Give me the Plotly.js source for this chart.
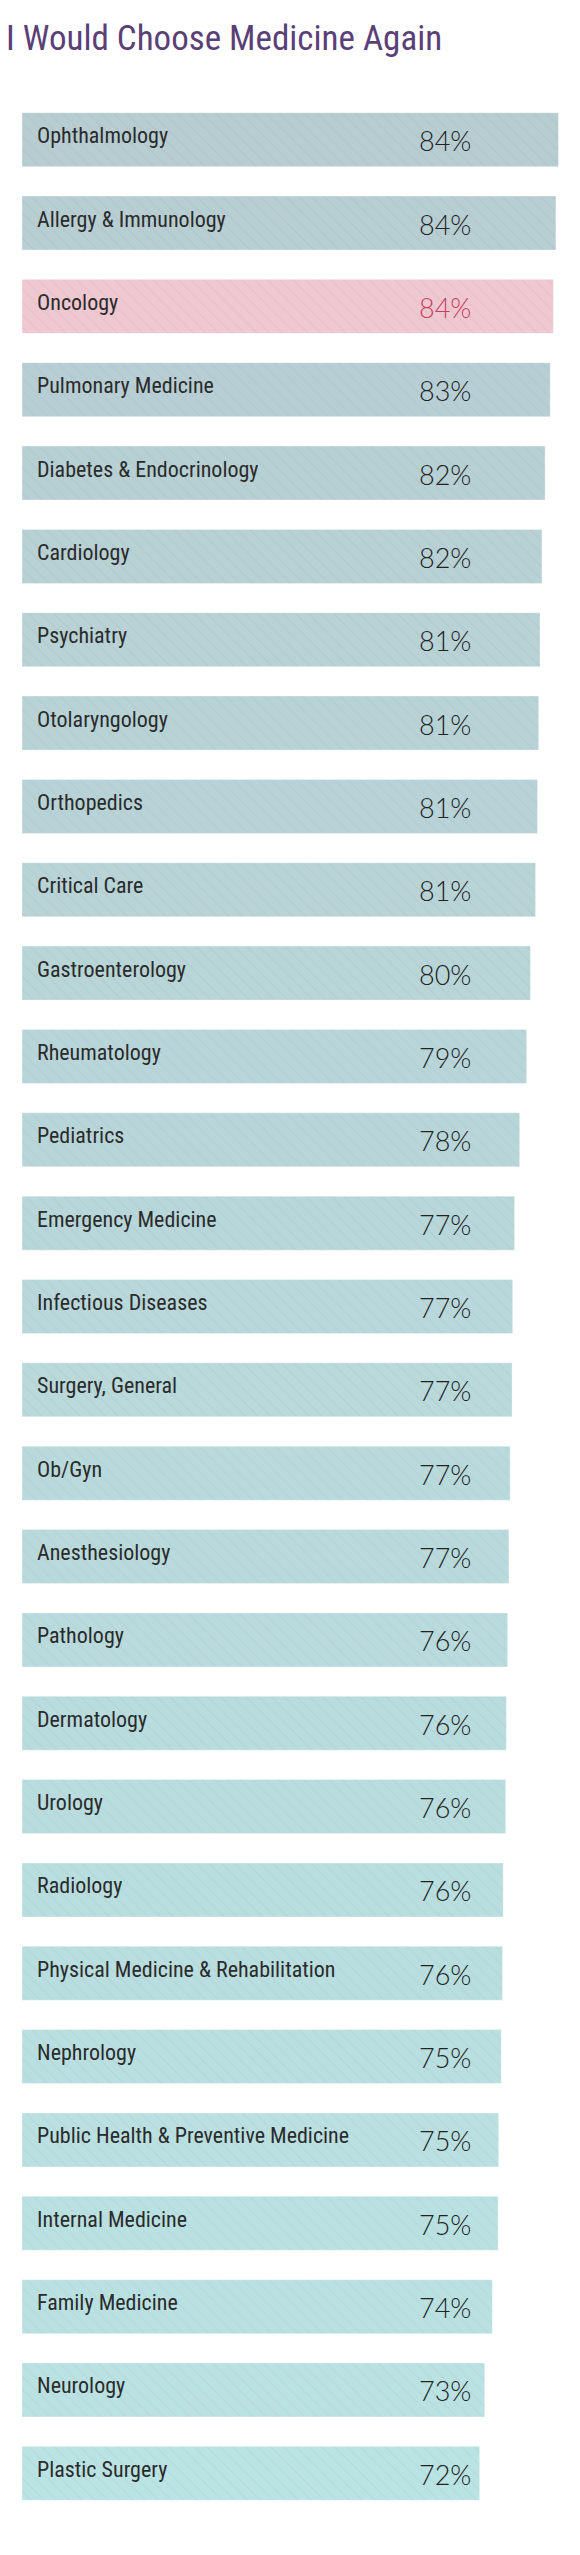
<!DOCTYPE html>
<html>
<head>
<meta charset="utf-8">
<script src="https://cdn.plot.ly/plotly-3.0.1.min.js"></script>
<style>
  html, body { margin: 0; padding: 0; background: #fff; }
  #chart { width: 580px; height: 2555px; }
</style>
</head>
<body>
<div id="chart"></div>
<script>
// specialties, top to bottom
const SPECIALTIES = [
  'Ophthalmology',
  'Allergy & Immunology',
  'Oncology',
  'Pulmonary Medicine',
  'Diabetes & Endocrinology',
  'Cardiology',
  'Psychiatry',
  'Otolaryngology',
  'Orthopedics',
  'Critical Care',
  'Gastroenterology',
  'Rheumatology',
  'Pediatrics',
  'Emergency Medicine',
  'Infectious Diseases',
  'Surgery, General',
  'Ob/Gyn',
  'Anesthesiology',
  'Pathology',
  'Dermatology',
  'Urology',
  'Radiology',
  'Physical Medicine & Rehabilitation',
  'Nephrology',
  'Public Health & Preventive Medicine',
  'Internal Medicine',
  'Family Medicine',
  'Neurology',
  'Plastic Surgery',
];

// bar lengths
const BAR_VALUES = [
  84.4, 84.0, 83.6, 83.1, 82.3, 81.8, 81.5, 81.3, 81.1, 80.8,
  80.0, 79.4, 78.3, 77.5, 77.2, 77.1, 76.8, 76.6, 76.4, 76.2,
  76.1, 75.7, 75.6, 75.4, 75.0, 74.9, 74.0, 72.8, 72.0,
];

// printed percentages
const SHOWN_PCT = [
  84, 84, 84, 83, 82, 82, 81, 81, 81, 81,
  80, 79, 78, 77, 77, 77, 77, 77, 76, 76,
  76, 76, 76, 75, 75, 75, 74, 73, 72,
];

const HIGHLIGHT = 'Oncology';

const TOP_COLOR = [183, 205, 210];
const BOTTOM_COLOR = [186, 227, 227];

function mixColor(t) {
  const c = TOP_COLOR.map((v, i) => Math.round(v + (BOTTOM_COLOR[i] - v) * t));
  return `rgb(${c[0]},${c[1]},${c[2]})`;
}

const barColors = SPECIALTIES.map((name, i) =>
  name === HIGHLIGHT ? 'rgb(239,200,209)' : mixColor(i / (SPECIALTIES.length - 1))
);

const trace = {
  type: 'bar',
  orientation: 'h',
  x: BAR_VALUES,
  y: SPECIALTIES,
  marker: {
    color: barColors,
    line: { color: 'rgba(255,255,255,0.35)', width: 1 },
    pattern: {
      shape: '\\',
      fillmode: 'overlay',
      fgcolor: '#ffffff',
      fgopacity: 0.05,
      size: 9,
      solidity: 0.15,
    },
  },
  hoverinfo: 'none',
};

const annotations = [];
SPECIALTIES.forEach((name, i) => {
  annotations.push({
    x: 2.05,
    y: name,
    xref: 'x',
    yref: 'y',
    text: name,
    showarrow: false,
    xanchor: 'left',
    yanchor: 'middle',
    yshift: 4,
    font: {
      family: '"Roboto Condensed", "Liberation Sans Narrow", "DejaVu Sans Condensed", sans-serif',
      size: 22,
      color: '#2b2b2b',
    },
  });
  annotations.push({
    x: 62.1,
    y: name,
    xref: 'x',
    yref: 'y',
    text: SHOWN_PCT[i] + '%',
    showarrow: false,
    xanchor: 'left',
    yanchor: 'middle',
    yshift: -1,
    font: {
      family: 'Lato, "Open Sans", sans-serif',
      weight: 300,
      size: 27,
      color: name === HIGHLIGHT ? '#c8405f' : '#222222',
    },
  });
});

const layout = {
  width: 580,
  height: 2555,
  margin: { l: 22, r: 5, t: 98, b: 40 },
  paper_bgcolor: '#ffffff',
  plot_bgcolor: '#ffffff',
  showlegend: false,
  bargap: 0.352,
  title: {
    text: 'I Would Choose Medicine Again',
    x: 6 / 580,
    xanchor: 'left',
    xref: 'container',
    y: 1 - 38 / 2555,
    yanchor: 'middle',
    yref: 'container',
    font: {
      family: '"Roboto Condensed", "Liberation Sans Narrow", "DejaVu Sans Condensed", sans-serif',
      size: 35,
      color: '#5b3f77',
    },
  },
  xaxis: {
    range: [0, 87],
    visible: false,
    fixedrange: true,
  },
  yaxis: {
    autorange: 'reversed',
    visible: false,
    fixedrange: true,
  },
  annotations: annotations,
};

Plotly.newPlot('chart', [trace], layout, { displayModeBar: false, staticPlot: true });
</script>
</body>
</html>
